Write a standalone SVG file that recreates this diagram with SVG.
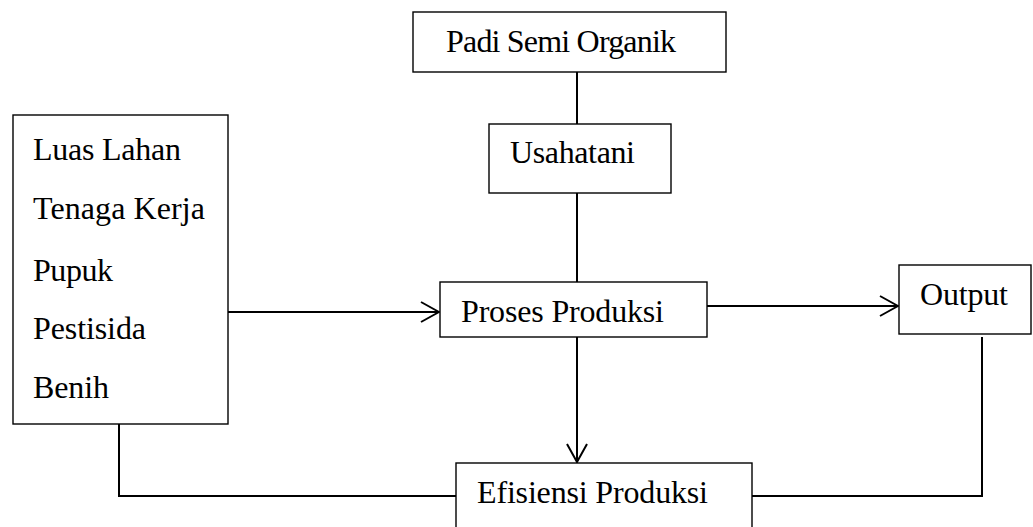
<svg xmlns="http://www.w3.org/2000/svg" width="1033" height="527" viewBox="0 0 1033 527">
<style>
.box{fill:#fff;stroke:#000;stroke-width:1.4}
.lbl{font-family:"Liberation Serif","Times New Roman",serif;font-size:32px;fill:#000}
.con{fill:none;stroke:#000;stroke-width:2}
</style>
<defs>
<marker id="arr" viewBox="0 0 20 22" refX="19" refY="11" markerWidth="20" markerHeight="22" markerUnits="userSpaceOnUse" orient="auto">
<path d="M1,1 L19,11 L1,21" fill="none" stroke="#000" stroke-width="2"/>
</marker>
</defs>
<rect width="1033" height="527" fill="#fff"/>
<g id="connectors">
<line class="con" x1="577" y1="72" x2="577" y2="124"/>
<line class="con" x1="577" y1="193" x2="577" y2="282"/>
<line class="con" x1="228" y1="312" x2="439" y2="312" marker-end="url(#arr)"/>
<line class="con" x1="707" y1="306" x2="898" y2="306" marker-end="url(#arr)"/>
<line class="con" x1="577" y1="337" x2="577" y2="462" marker-end="url(#arr)"/>
<polyline class="con" points="119,424 119,496 456,496"/>
<polyline class="con" points="982,337 982,496 752,496"/>
</g>
<g id="padi">
<rect class="box" x="413" y="12" width="313" height="60"/>
<text class="lbl" x="446" y="52" textLength="230">Padi Semi Organik</text>
</g>
<g id="usahatani">
<rect class="box" x="489" y="124" width="182" height="69"/>
<text class="lbl" x="510" y="163" textLength="125">Usahatani</text>
</g>
<g id="inputs">
<rect class="box" x="13" y="115" width="215" height="309"/>
<text class="lbl" x="33" y="160" textLength="148">Luas Lahan</text>
<text class="lbl" x="33" y="219" textLength="172">Tenaga Kerja</text>
<text class="lbl" x="33" y="281" textLength="80">Pupuk</text>
<text class="lbl" x="33" y="339" textLength="113">Pestisida</text>
<text class="lbl" x="33" y="398" textLength="76">Benih</text>
</g>
<g id="proses">
<rect class="box" x="440" y="282" width="267" height="55"/>
<text class="lbl" x="461" y="322" textLength="203">Proses Produksi</text>
</g>
<g id="output">
<rect class="box" x="899" y="265" width="132" height="69"/>
<text class="lbl" x="920" y="305" textLength="88">Output</text>
</g>
<g id="efisiensi">
<rect class="box" x="456" y="463" width="296" height="70"/>
<text class="lbl" x="477" y="503" textLength="231">Efisiensi Produksi</text>
</g>
</svg>
